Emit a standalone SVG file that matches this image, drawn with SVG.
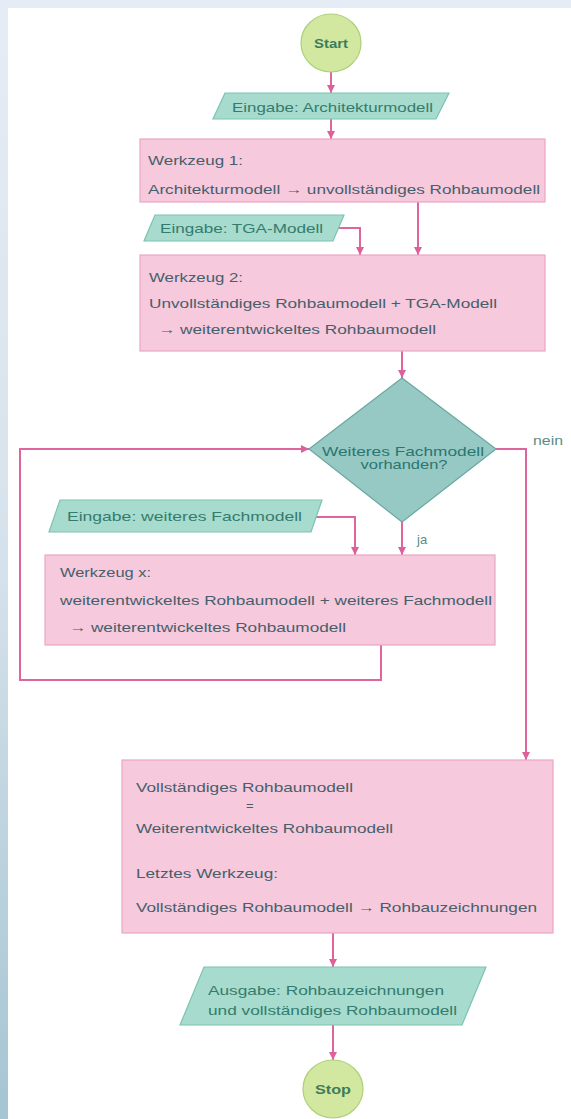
<svg xmlns="http://www.w3.org/2000/svg" width="571" height="1119" viewBox="0 0 571 1119">
<defs>
<linearGradient id="bg" x1="0" y1="0" x2="0" y2="1">
<stop offset="0" stop-color="#e6ecf5"/>
<stop offset="0.5" stop-color="#d6e2eb"/>
<stop offset="1" stop-color="#a5c5d2"/>
</linearGradient>
<marker id="ah" viewBox="0 0 10 10" refX="10" refY="5" markerWidth="8" markerHeight="8" markerUnits="userSpaceOnUse" orient="auto">
<path d="M0,0 L10,5 L0,10 z" fill="#df5f9a"/>
</marker>
<style>
.box{fill:#f6c9dd;stroke:#eba6c5;stroke-width:1.2}
.io{fill:#a6dbcd;stroke:#7cc3b2;stroke-width:1.2}
.dec{fill:#97c9c4;stroke:#68a8a1;stroke-width:1.2}
.term{fill:#d2e8a0;stroke:#add07a;stroke-width:1.2}
.t{font-family:"Liberation Sans",Arial,sans-serif;font-size:13px;fill:#455f6b}
.ti{font-family:"Liberation Sans",Arial,sans-serif;font-size:13px;fill:#357b6e}
.td{font-family:"Liberation Sans",Arial,sans-serif;font-size:13px;fill:#2a7671}
.tt{font-family:"Liberation Sans",Arial,sans-serif;font-size:13px;font-weight:bold;fill:#3c7c5a}
.tl{font-family:"Liberation Sans",Arial,sans-serif;font-size:13px;fill:#5b8c88}
.c{fill:none;stroke:#e0649e;stroke-width:2}
</style>
</defs>
<rect width="571" height="1119" fill="url(#bg)"/>
<rect x="8" y="8" width="563" height="1111" fill="#ffffff"/>

<g id="connectors">
<path class="c" d="M331,72 V93" marker-end="url(#ah)"/>
<path class="c" d="M331,119 V139" marker-end="url(#ah)"/>
<path class="c" d="M418,202 V255" marker-end="url(#ah)"/>
<path class="c" d="M338,228 H360 V255" marker-end="url(#ah)"/>
<path class="c" d="M402,351 V378" marker-end="url(#ah)"/>
<path class="c" d="M496,449 H526 V760" marker-end="url(#ah)"/>
<path class="c" d="M402,522 V555" marker-end="url(#ah)"/>
<path class="c" d="M315,517 H355 V555" marker-end="url(#ah)"/>
<path class="c" d="M381,645 V680 H20 V449 H309" marker-end="url(#ah)"/>
<path class="c" d="M333,933 V967" marker-end="url(#ah)"/>
<path class="c" d="M333,1025 V1060" marker-end="url(#ah)"/>
</g>

<g id="start">
<ellipse class="term" cx="331" cy="43" rx="30" ry="29"/>
<text class="tt" x="314" y="48" textLength="34" lengthAdjust="spacingAndGlyphs">Start</text>
</g>

<g id="input-architektur">
<polygon class="io" points="225,93 449,93 436,119 213,119"/>
<text class="ti" x="232" y="112" textLength="201" lengthAdjust="spacingAndGlyphs">Eingabe: Architekturmodell</text>
</g>

<g id="werkzeug1">
<rect class="box" x="140" y="139" width="405" height="63"/>
<text class="t" x="148" y="165" textLength="95" lengthAdjust="spacingAndGlyphs">Werkzeug 1:</text>
<text class="t" x="148" y="194" textLength="392" lengthAdjust="spacingAndGlyphs">Architekturmodell → unvollständiges Rohbaumodell</text>
</g>

<g id="input-tga">
<polygon class="io" points="155,215 344,215 333,241 144,241"/>
<text class="ti" x="160" y="233" textLength="163" lengthAdjust="spacingAndGlyphs">Eingabe: TGA-Modell</text>
</g>

<g id="werkzeug2">
<rect class="box" x="140" y="255" width="405" height="96"/>
<text class="t" x="149" y="282" textLength="94" lengthAdjust="spacingAndGlyphs">Werkzeug 2:</text>
<text class="t" x="149" y="308" textLength="348" lengthAdjust="spacingAndGlyphs">Unvollständiges Rohbaumodell + TGA-Modell</text>
<text class="t" x="158" y="334" textLength="278" lengthAdjust="spacingAndGlyphs">→ weiterentwickeltes Rohbaumodell</text>
</g>

<g id="decision">
<polygon class="dec" points="402,378 496,449 402,522 309,449"/>
<text class="td" x="403" y="456" text-anchor="middle" textLength="162" lengthAdjust="spacingAndGlyphs">Weiteres Fachmodell</text>
<text class="td" x="404" y="469" text-anchor="middle" textLength="87" lengthAdjust="spacingAndGlyphs">vorhanden?</text>
</g>

<g id="label-nein">
<text class="tl" x="533" y="445" textLength="30" lengthAdjust="spacingAndGlyphs">nein</text>
</g>
<g id="label-ja">
<text class="tl" x="417" y="544">ja</text>
</g>

<g id="input-fachmodell">
<polygon class="io" points="60,500 322,500 311,532 49,532"/>
<text class="ti" x="67" y="521" textLength="235" lengthAdjust="spacingAndGlyphs">Eingabe: weiteres Fachmodell</text>
</g>

<g id="werkzeugx">
<rect class="box" x="45" y="555" width="450" height="90"/>
<text class="t" x="60" y="577" textLength="91" lengthAdjust="spacingAndGlyphs">Werkzeug x:</text>
<text class="t" x="60" y="605" textLength="432" lengthAdjust="spacingAndGlyphs">weiterentwickeltes Rohbaumodell + weiteres Fachmodell</text>
<text class="t" x="69" y="632" textLength="277" lengthAdjust="spacingAndGlyphs">→ weiterentwickeltes Rohbaumodell</text>
</g>

<g id="letztes-werkzeug">
<rect class="box" x="122" y="760" width="431" height="173"/>
<text class="t" x="136" y="792" textLength="217" lengthAdjust="spacingAndGlyphs">Vollständiges Rohbaumodell</text>
<text class="t" x="246" y="810">=</text>
<text class="t" x="136" y="833" textLength="257" lengthAdjust="spacingAndGlyphs">Weiterentwickeltes Rohbaumodell</text>
<text class="t" x="136" y="878" textLength="142" lengthAdjust="spacingAndGlyphs">Letztes Werkzeug:</text>
<text class="t" x="136" y="912" textLength="401" lengthAdjust="spacingAndGlyphs">Vollständiges Rohbaumodell → Rohbauzeichnungen</text>
</g>

<g id="output">
<polygon class="io" points="204,967 486,967 462,1025 180,1025"/>
<text class="ti" x="208" y="995" textLength="236" lengthAdjust="spacingAndGlyphs">Ausgabe: Rohbauzeichnungen</text>
<text class="ti" x="208" y="1015" textLength="249" lengthAdjust="spacingAndGlyphs">und vollständiges Rohbaumodell</text>
</g>

<g id="stop">
<ellipse class="term" cx="333" cy="1089" rx="30" ry="29"/>
<text class="tt" x="315" y="1094" textLength="36" lengthAdjust="spacingAndGlyphs">Stop</text>
</g>
</svg>
